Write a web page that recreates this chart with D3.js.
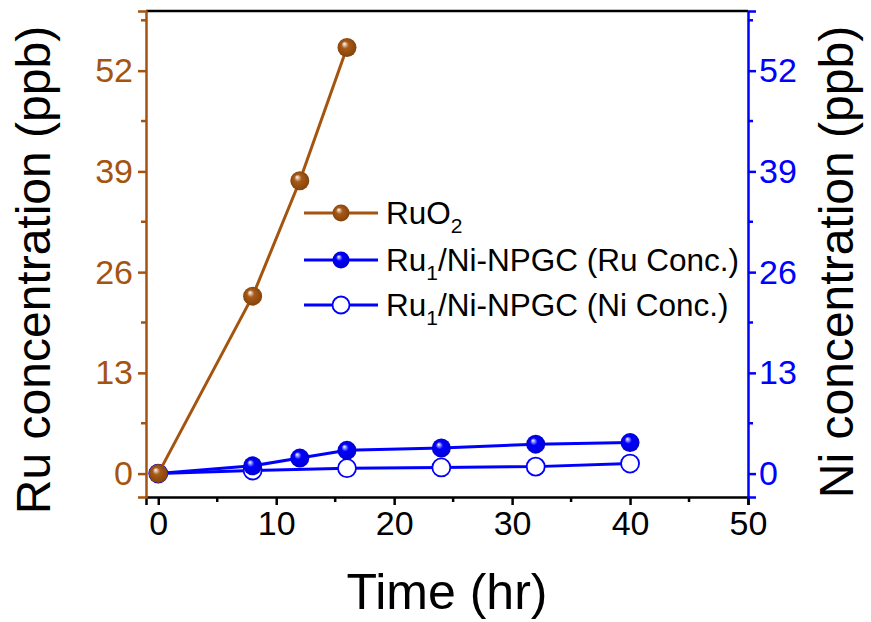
<!DOCTYPE html>
<html>
<head>
	<meta charset="UTF-8">
	<title>Ru / Ni concentration</title>
	<script src="https://d3js.org/d3.v7.min.js"></script>
	<style>
		body { margin: 0; background: #fff; }
		text { font-family: Arial, "Liberation Sans", sans-serif; }
	</style>
</head>
<body>
	<div id="chart"></div>
	<script>
		// data
		let ruo2Time = [0, 8, 12, 16];
		let ruo2Ru = [0, 22.9, 37.8, 55.0];

		let ru1Time = [0, 8, 12, 16, 24, 32, 40];
		let ru1Ru = [0, 1.0, 2.0, 3.0, 3.3, 3.8, 4.0];

		let ru1NiTime = [0, 8, 16, 24, 32, 40];
		let ru1Ni = [0, 0.4, 0.7, 0.8, 0.9, 1.3];

		let yTicks = [0, 13, 26, 39, 52];
		let xTicks = [0, 10, 20, 30, 40, 50];
		let legendLabels = ["RuO", "Ru", "Ru"];

		let brown = "#a5540f";
		let blue = "#0000ff";

		let width = 871;
		let height = 622;
		let margin = { top: 11, right: 123, bottom: 125, left: 146 };

		let svg = d3.select("#chart").append("svg")
			.attr("width", width)
			.attr("height", height);

		let x = d3.scaleLinear()
			.domain([-1.04, 50])
			.range([margin.left, width - margin.right]);
		let yLeft = d3.scaleLinear()
			.domain([-3.02, 59.7])
			.range([height - margin.bottom, margin.top]);
		let yRight = d3.scaleLinear()
			.domain([-3.02, 59.7])
			.range([height - margin.bottom, margin.top]);

		// gradients for the shaded balls
		let defs = svg.append("defs");
		function ball(id, color, dark) {
			let g = defs.append("radialGradient")
				.attr("id", id)
				.attr("cx", "50%").attr("cy", "50%").attr("r", "55%")
				.attr("fx", "35%").attr("fy", "30%");
			g.append("stop").attr("offset", "0%").attr("stop-color", "#ffffff");
			g.append("stop").attr("offset", "35%").attr("stop-color", color);
			g.append("stop").attr("offset", "100%").attr("stop-color", dark);
		}
		ball("ballBrown", "#a85a18", "#804008");
		ball("ballBlue", "#0000ff", "#0000cc");

		// minor ticks
		let xMinor = d3.range(5, 50, 10);
		let yMinor = d3.range(6.5, 59, 13);

		// frame top black
		svg.append("line")
			.attr("x1", x.range()[0]).attr("x2", x.range()[1])
			.attr("y1", margin.top).attr("y2", margin.top)
			.attr("stroke", "black").attr("stroke-width", 2.5);

		// bottom axis
		let xAxis = d3.axisBottom(x).tickValues(xTicks).tickSize(8).tickPadding(6);
		let gx = svg.append("g")
			.attr("transform", `translate(0,${height - margin.bottom})`)
			.call(xAxis);
		gx.select(".domain").attr("stroke-width", 2.5);
		gx.selectAll(".tick line").attr("stroke-width", 2.5);
		gx.selectAll("text").attr("font-size", 34).attr("fill", "black");
		gx.selectAll(".minor")
			.data(xMinor)
			.join("line")
			.attr("class", "minor")
			.attr("x1", d => x(d)).attr("x2", d => x(d))
			.attr("y1", 0).attr("y2", 5)
			.attr("stroke", "black").attr("stroke-width", 2.5);

		// left axis
		let leftAxis = d3.axisLeft(yLeft).tickValues(yTicks).tickSize(8).tickPadding(5);
		let gl = svg.append("g")
			.attr("transform", `translate(${margin.left},0)`)
			.call(leftAxis);
		gl.select(".domain").attr("stroke", brown).attr("stroke-width", 2.5);
		gl.selectAll(".tick line").attr("stroke", brown).attr("stroke-width", 2.5);
		gl.selectAll("text").attr("font-size", 34).attr("fill", brown);
		gl.selectAll(".minor")
			.data(yMinor)
			.join("line")
			.attr("class", "minor")
			.attr("x1", 0).attr("x2", -5)
			.attr("y1", d => yLeft(d)).attr("y2", d => yLeft(d))
			.attr("stroke", brown).attr("stroke-width", 2.5);

		// right axis
		let rightAxis = d3.axisRight(yRight).tickValues(yTicks).tickSize(8).tickPadding(3);
		let gr = svg.append("g")
			.attr("transform", `translate(${width - margin.right},0)`)
			.call(rightAxis);
		gr.select(".domain").attr("stroke", blue).attr("stroke-width", 2.5);
		gr.selectAll(".tick line").attr("stroke", blue).attr("stroke-width", 2.5);
		gr.selectAll("text").attr("font-size", 34).attr("fill", blue);
		gr.selectAll(".minor")
			.data(yMinor)
			.join("line")
			.attr("class", "minor")
			.attr("x1", 0).attr("x2", 5)
			.attr("y1", d => yRight(d)).attr("y2", d => yRight(d))
			.attr("stroke", blue).attr("stroke-width", 2.5);

		// axis titles
		svg.append("text")
			.attr("transform", `translate(50,${(margin.top + height - margin.bottom) / 2 + 16}) rotate(-90)`)
			.attr("text-anchor", "middle")
			.attr("font-size", 48)
			.text("Ru concentration (ppb)");
		svg.append("text")
			.attr("transform", `translate(853,${(margin.top + height - margin.bottom) / 2 + 8}) rotate(-90)`)
			.attr("text-anchor", "middle")
			.attr("font-size", 48)
			.text("Ni concentration (ppb)");
		svg.append("text")
			.attr("x", 447)
			.attr("y", 609)
			.attr("text-anchor", "middle")
			.attr("font-size", 50)
			.text("Time (hr)");

		let line = d3.line();

		// series lines
		let ruo2Pts = ruo2Time.map((t, i) => [x(t), yLeft(ruo2Ru[i])]);
		let ruPts = ru1Time.map((t, i) => [x(t), yLeft(ru1Ru[i])]);
		let niPts = ru1NiTime.map((t, i) => [x(t), yRight(ru1Ni[i])]);

		svg.append("path").attr("d", line(niPts))
			.attr("fill", "none").attr("stroke", blue).attr("stroke-width", 3);
		svg.selectAll(".niDot")
			.data(niPts)
			.join("circle")
			.attr("class", "niDot")
			.attr("cx", d => d[0]).attr("cy", d => d[1])
			.attr("r", 9)
			.attr("fill", "white").attr("stroke", blue).attr("stroke-width", 1.8);

		svg.append("path").attr("d", line(ruPts))
			.attr("fill", "none").attr("stroke", blue).attr("stroke-width", 3);
		svg.selectAll(".ruDot")
			.data(ruPts)
			.join("circle")
			.attr("class", "ruDot")
			.attr("cx", d => d[0]).attr("cy", d => d[1])
			.attr("r", 9.5)
			.attr("fill", "url(#ballBlue)");

		svg.append("path").attr("d", line(ruo2Pts))
			.attr("fill", "none").attr("stroke", brown).attr("stroke-width", 3);
		svg.selectAll(".ruo2Dot")
			.data(ruo2Pts)
			.join("circle")
			.attr("class", "ruo2Dot")
			.attr("cx", d => d[0]).attr("cy", d => d[1])
			.attr("r", 9.5)
			.attr("fill", "url(#ballBrown)");

		// legend
		let legendY = [213, 260, 305];
		let legendColors = [brown, blue, blue];
		let legendFill = ["url(#ballBrown)", "url(#ballBlue)", "white"];
		let legendSub = ["2", "1", "1"];
		let legendRest = ["", "/Ni-NPGC (Ru Conc.)", "/Ni-NPGC (Ni Conc.)"];

		let lg = svg.append("g").selectAll("g")
			.data(legendLabels)
			.join("g")
			.attr("transform", (d, i) => `translate(0,${legendY[i]})`);
		lg.append("line")
			.attr("x1", 304).attr("x2", 378)
			.attr("stroke", (d, i) => legendColors[i]).attr("stroke-width", 3);
		lg.append("circle")
			.attr("cx", 341).attr("r", 8.5)
			.attr("fill", (d, i) => legendFill[i])
			.attr("stroke", (d, i) => i == 2 ? blue : "none")
			.attr("stroke-width", 1.8);
		let lt = lg.append("text")
			.attr("x", 386).attr("y", 11)
			.attr("font-size", 31.5)
			.attr("fill", "black");
		lt.append("tspan").text(d => d);
		lt.append("tspan")
			.attr("font-size", 21).attr("dy", 9)
			.text((d, i) => legendSub[i]);
		lt.append("tspan")
			.attr("dy", -9)
			.text((d, i) => legendRest[i]);
	</script>
</body>
</html>
